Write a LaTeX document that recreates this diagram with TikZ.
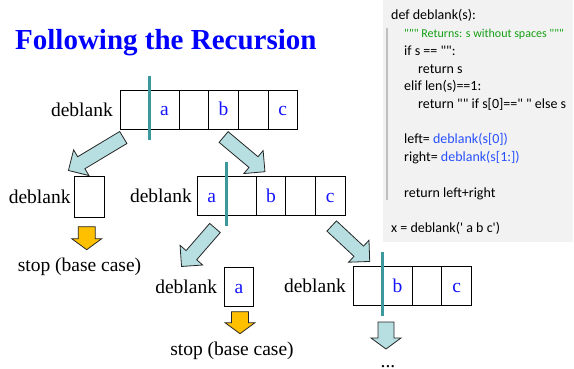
\documentclass[tikz,border=0pt]{standalone}
\usepackage{fontspec}
\setmainfont{Liberation Serif}
\newfontfamily\codefont{Carlito}
\usetikzlibrary{positioning}

\definecolor{arrowblue}{RGB}{183,222,224}
\definecolor{tealline}{RGB}{60,152,156}
\definecolor{stoporange}{RGB}{255,192,0}
\definecolor{letterblue}{RGB}{20,20,255}
\definecolor{codegreen}{RGB}{20,160,20}
\definecolor{codeblue}{RGB}{40,80,255}
\definecolor{panelgray}{RGB}{242,242,242}

% block arrow: style, tail, angle, length, shaft width, head width, head length
\newcommand{\fatarrow}[7]{%
  \draw[#1, shift={#2}, rotate=#3]
    (0,-#5/2) -- (#4-#7,-#5/2) -- (#4-#7,-#6/2) -- (#4,0)
    -- (#4-#7,#6/2) -- (#4-#7,#5/2) -- (0,#5/2) -- cycle;}

\begin{document}
\begin{tikzpicture}[x=1pt, y=1pt, node distance=0pt,
    cell/.style={draw, line width=0.9pt, minimum width=29.6pt, minimum height=39pt,
      inner sep=0pt, outer sep=0pt, text height=13pt, text depth=0pt,
      text=letterblue, font=\fontsize{19.5}{22}\selectfont},
    call/.style={inner sep=1pt, font=\fontsize{19.5}{22}\selectfont},
    split/.style={tealline, line width=3pt, shorten <=-14pt, shorten >=-11pt},
    diag/.style={fill=arrowblue, draw=black!85, line width=0.8pt},
    stoparrow/.style={fill=stoporange, draw=black!85, line width=0.8pt},
    code/.style={anchor=base west, inner sep=0pt, font=\codefont\fontsize{14}{17}\selectfont}]
  \useasboundingbox (0,0) rectangle (574,-369);

  % code panel
  \fill[panelgray] (383,0) rectangle (573,-242);
  \draw[black!25, line width=1.5pt] (387,-28) -- (387,-200);
  \node[code] (line1) at (391,-20) {def deblank(s):};
  \node[code, text=codegreen, font=\codefont\fontsize{12}{14}\selectfont] (line2) at (404,-37.7) {""" Returns: s without spaces """};
  \node[code] (line3) at (404,-55.4) {if s == "":};
  \node[code] (line4) at (418,-73.1) {return s};
  \node[code] (line5) at (404,-90.8) {elif len(s)==1:};
  \node[code] (line6) at (418,-108.5) {return "" if s[0]==" " else s};
  \node[code] (line8) at (404,-143.9) {left= \textcolor{codeblue}{deblank(s[0])}};
  \node[code] (line9) at (404,-161.6) {right= \textcolor{codeblue}{deblank(s[1:])}};
  \node[code] (line11) at (404,-197) {return left+right};
  \node[code] (line13) at (391,-232.4) {x = deblank(' a b c')};

  \node[anchor=base west, inner sep=0pt, text=blue, font=\bfseries\fontsize{29}{32}\selectfont] (title) at (15,-50) {Following the Recursion};

  % first call
  \node[cell] (r1c1) at (134.8,-109.5) {};
  \node[cell, right=of r1c1] (r1c2) {a};
  \node[cell, right=of r1c2] (r1c3) {};
  \node[cell, right=of r1c3] (r1c4) {b};
  \node[cell, right=of r1c4] (r1c5) {};
  \node[cell, right=of r1c5] (r1c6) {c};
  \node[call, left=6pt of r1c1] (r1name) {deblank};
  \draw[split] (r1c1.north east) -- (r1c1.south east);

  % second level
  \node[cell, minimum height=41pt] (r2a) at (89.5,-196.5) {};
  \node[call, left=3pt of r2a] (r2aname) {deblank};

  \node[cell] (r2b1) at (211.8,-195.5) {a};
  \node[cell, right=of r2b1] (r2b2) {};
  \node[cell, right=of r2b2] (r2b3) {b};
  \node[cell, right=of r2b3] (r2b4) {};
  \node[cell, right=of r2b4] (r2b5) {c};
  \node[call, left=4pt of r2b1] (r2bname) {deblank};
  \draw[split] (r2b1.north east) -- (r2b1.south east);

  % third level
  \node[cell] (r3a) at (239,-286.5) {a};
  \node[call, left=6pt of r3a] (r3aname) {deblank};

  \node[cell] (r3b1) at (367.8,-285.5) {};
  \node[cell, right=of r3b1] (r3b2) {b};
  \node[cell, right=of r3b2] (r3b3) {};
  \node[cell, right=of r3b3] (r3b4) {c};
  \node[call, left=6pt of r3b1] (r3bname) {deblank};
  \draw[split] (r3b1.north east) -- (r3b1.south east);

  % recursive calls
  \fatarrow{diag}{([xshift=3.3pt,yshift=-8.5pt]r1c1.south west)}{211}{64}{14}{30}{15}
  \fatarrow{diag}{([yshift=-8pt]r1c4.south)}{-40}{54}{14}{30}{15}
  \fatarrow{diag}{([xshift=3.2pt,yshift=-13pt]r2b1.south)}{229}{51}{14}{30}{15}
  \fatarrow{diag}{([xshift=1.5pt,yshift=-11pt]r2b5.south)}{-43}{52}{14}{30}{15}
  \fatarrow{diag}{([xshift=3.4pt,yshift=-17pt]r3b1.south east)}{-90}{27}{16}{30}{11}

  % base cases
  \fatarrow{stoparrow}{([xshift=-2.8pt,yshift=-9.7pt]r2a.south)}{-90}{23}{17}{30}{11}
  \fatarrow{stoparrow}{([xshift=1pt,yshift=-5.7pt]r3a.south)}{-90}{22}{17}{30}{11}
  \node[call, anchor=base] (stop1) at (79.5,-271) {stop (base case)};
  \node[call, anchor=base] (stop2) at (232,-355) {stop (base case)};
  \node[call, anchor=base] (more) at (388,-367.5) {...};
\end{tikzpicture}
\end{document}
